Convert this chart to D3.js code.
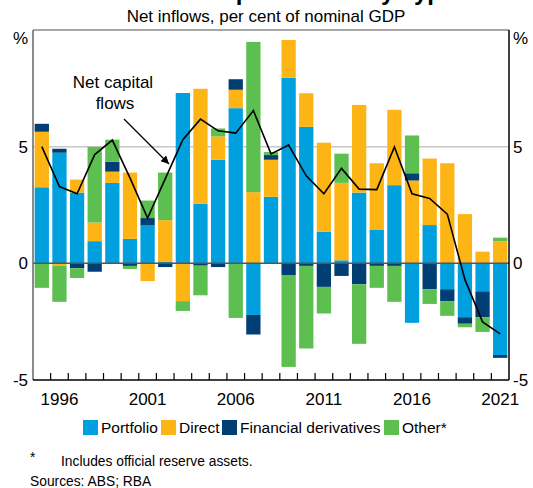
<!DOCTYPE html>
<html>
<head>
<meta charset="utf-8">
<script src="https://cdn.jsdelivr.net/npm/d3@7/dist/d3.min.js"></script>
<style>
  html, body { margin: 0; padding: 0; background: #fff; }
  svg { display: block; font-family: Arial, "Liberation Sans", Helvetica, sans-serif; }
</style>
</head>
<body>
<svg id="chart" width="533" height="488"></svg>
<script>
// Net capital inflows by type, per cent of nominal GDP
const years = [1995, 1996, 1997, 1998, 1999, 2000, 2001, 2002, 2003, 2004, 2005, 2006, 2007,
               2008, 2009, 2010, 2011, 2012, 2013, 2014, 2015, 2016, 2017, 2018, 2019, 2020, 2021];
const portfolio   = [3.26, 4.74, 3.03, 0.95, 3.45, 1.05, 1.62, 0.06, 7.30, 2.55, 4.44, 6.65, -2.21,
                     2.85, 7.95, 5.85, 1.35, 0.13, 3.03, 1.45, 3.35, -2.55, 1.64, -1.11, -2.31, -1.20, -3.93];
const direct      = [2.38, -0.10, 0.56, 0.80, 0.48, 2.84, -0.76, 1.79, -1.62, 4.93, 1.00, 0.79, 3.05,
                     1.59, 1.62, 1.44, 3.82, 3.32, 3.76, 2.84, 3.23, 3.55, 2.85, 4.29, 2.11, 0.50, 0.95];
const derivatives = [0.34, 0.17, -0.21, -0.36, 0.42, -0.11, 0.32, -0.16, 0.00, -0.10, -0.16, 0.45, -0.84,
                     0.20, -0.50, -0.11, -1.01, -0.54, -0.90, -0.11, -0.11, 0.31, -1.11, -0.51, -0.28, -1.11, -0.12];
const other       = [-1.05, -1.55, -0.42, 3.24, 0.95, -0.13, 0.75, 2.04, -0.42, -1.27, 0.34, -2.34, 6.44,
                     0.13, -3.94, -3.54, -1.14, 1.25, -2.55, -0.94, -1.54, 1.62, -0.63, -0.63, -0.15, -0.63, 0.15];
const netFlows    = [5.00, 3.29, 2.98, 4.66, 5.28, 3.66, 1.94, 3.62, 5.30, 6.18, 5.68, 5.58, 6.55,
                     4.69, 5.07, 3.75, 2.98, 4.07, 3.18, 3.16, 4.99, 2.98, 2.78, 2.11, -0.70, -2.51, -3.02];

const seriesNames  = ["Portfolio", "Direct", "Financial derivatives", "Other*"];
const seriesColors = ["#00A0DF", "#FDB515", "#003E74", "#5DBF50"];
const yTicks = [-5, 0, 5];
const xLabelYears = [1996, 2001, 2006, 2011, 2016, 2021];

const svg = d3.select("#chart");
const margin = { left: 33, right: 24, top: 30, bottom: 108 };
const W = 533, H = 488;
const x0 = margin.left, x1 = W - margin.right;
const yTop = margin.top, yBot = H - margin.bottom;

const x = d3.scaleBand().domain(years).range([x0, x1]).paddingInner(0.19).paddingOuter(0.095);
const y = d3.scaleLinear().domain([-5, 10]).range([yBot, yTop]);

// Table rows for the stack
const rows = years.map((yr, i) => ({
  year: yr,
  Portfolio: portfolio[i],
  Direct: direct[i],
  "Financial derivatives": derivatives[i],
  "Other*": other[i]
}));
const stacked = d3.stack().keys(seriesNames).offset(d3.stackOffsetDiverging)(rows);

// Title (sits above the frame)
svg.append("text")
  .attr("x", 205).attr("y", 0)
  .attr("font-size", 24).attr("font-weight", "bold")
  .text("Capital Flows by Type");

svg.append("text")
  .attr("x", (x0 + x1) / 2 - 5).attr("y", 22)
  .attr("text-anchor", "middle").attr("font-size", 17)
  .text("Net inflows, per cent of nominal GDP");

// Gridline at 5
svg.append("line")
  .attr("x1", x0).attr("x2", x1)
  .attr("y1", y(5)).attr("y2", y(5))
  .attr("stroke", "#c8c8c8").attr("stroke-width", 1.5);

// Bars
svg.append("g").selectAll("g")
  .data(stacked)
  .join("g")
  .attr("fill", (d, i) => seriesColors[i])
  .selectAll("rect")
  .data(d => d)
  .join("rect")
  .attr("x", d => x(d.data.year))
  .attr("width", x.bandwidth())
  .attr("y", d => y(Math.max(d[0], d[1])))
  .attr("height", d => Math.abs(y(d[0]) - y(d[1])));

// Zero line
svg.append("line")
  .attr("x1", x0).attr("x2", x1)
  .attr("y1", y(0)).attr("y2", y(0))
  .attr("stroke", "#555").attr("stroke-width", 1.5);

// Frame
svg.append("line").attr("x1", x0).attr("x2", x1).attr("y1", yTop).attr("y2", yTop)
  .attr("stroke", "#8a8a8a").attr("stroke-width", 1.5);
svg.append("line").attr("x1", x0).attr("x2", x0).attr("y1", yTop).attr("y2", yBot)
  .attr("stroke", "#666").attr("stroke-width", 1.5);
svg.append("line").attr("x1", x1).attr("x2", x1).attr("y1", yTop).attr("y2", yBot)
  .attr("stroke", "#000").attr("stroke-width", 1.5);

// Bottom axis with inward ticks at band boundaries
const tickPositions = years.map(yr => x(yr) - x.step() * x.paddingInner() / 2).concat([x1]);
const axisG = svg.append("g");
axisG.append("line").attr("x1", x0).attr("x2", x1).attr("y1", yBot).attr("y2", yBot)
  .attr("stroke", "#000").attr("stroke-width", 1.5);
axisG.selectAll("line.tick")
  .data(tickPositions.slice(1, -1))
  .join("line")
  .attr("class", "tick")
  .attr("x1", d => d).attr("x2", d => d)
  .attr("y1", yBot - 7).attr("y2", yBot)
  .attr("stroke", "#000").attr("stroke-width", 1.2);
axisG.selectAll("text")
  .data(xLabelYears)
  .join("text")
  .attr("x", d => x(d) + x.bandwidth() / 2)
  .attr("y", yBot + 25)
  .attr("text-anchor", "middle").attr("font-size", 17)
  .text(d => d);

// Y labels, both sides
const yl = svg.append("g").attr("font-size", 17);
yl.selectAll("text.l").data(yTicks).join("text").attr("class", "l")
  .attr("x", 28).attr("y", d => y(d)).attr("dy", "0.36em")
  .attr("text-anchor", "end").text(d => d);
yl.selectAll("text.r").data(yTicks).join("text").attr("class", "r")
  .attr("x", 513).attr("y", d => y(d)).attr("dy", "0.36em")
  .attr("text-anchor", "start").text(d => d);
yl.append("text").attr("x", 28).attr("y", 44).attr("text-anchor", "end").text("%");
yl.append("text").attr("x", 513).attr("y", 44).text("%");

// Net capital flows line
const line = d3.line()
  .x((d, i) => x(years[i]) + x.bandwidth() / 2)
  .y(d => y(d));
svg.append("path")
  .datum(netFlows)
  .attr("d", line)
  .attr("fill", "none").attr("stroke", "#000").attr("stroke-width", 1.6)
  .attr("stroke-linejoin", "miter");

// Annotation
svg.append("defs").append("marker")
  .attr("id", "arrow").attr("viewBox", "0 0 10 10")
  .attr("refX", 10).attr("refY", 5)
  .attr("markerWidth", 10).attr("markerHeight", 8)
  .attr("markerUnits", "userSpaceOnUse")
  .attr("orient", "auto")
  .append("path").attr("d", "M0,0 L10,5 L0,10 Z").attr("fill", "#000");
const ann = svg.append("g").attr("font-size", 17).attr("text-anchor", "middle");
ann.append("text").attr("x", 113).attr("y", 88).text("Net capital");
ann.append("text").attr("x", 115).attr("y", 109).text("flows");
svg.append("line")
  .attr("x1", 124).attr("y1", 119).attr("x2", 169).attr("y2", 164)
  .attr("stroke", "#000").attr("stroke-width", 1.2)
  .attr("marker-end", "url(#arrow)");

// Legend
const legendX = [83, 161, 222, 384];
const leg = svg.append("g").attr("font-size", 15.5);
seriesNames.forEach((name, i) => {
  leg.append("rect").attr("x", legendX[i]).attr("y", 420).attr("width", 15).attr("height", 15)
    .attr("fill", seriesColors[i]);
  leg.append("text").attr("x", legendX[i] + 18).attr("y", 433).text(name);
});

// Notes
const notes = svg.append("g").attr("font-size", 13.8);
notes.append("text").attr("x", 30).attr("y", 462).text("*");
notes.append("text").attr("x", 61).attr("y", 466).text("Includes official reserve assets.");
notes.append("text").attr("x", 30).attr("y", 486).text("Sources: ABS; RBA");
</script>
</body>
</html>
